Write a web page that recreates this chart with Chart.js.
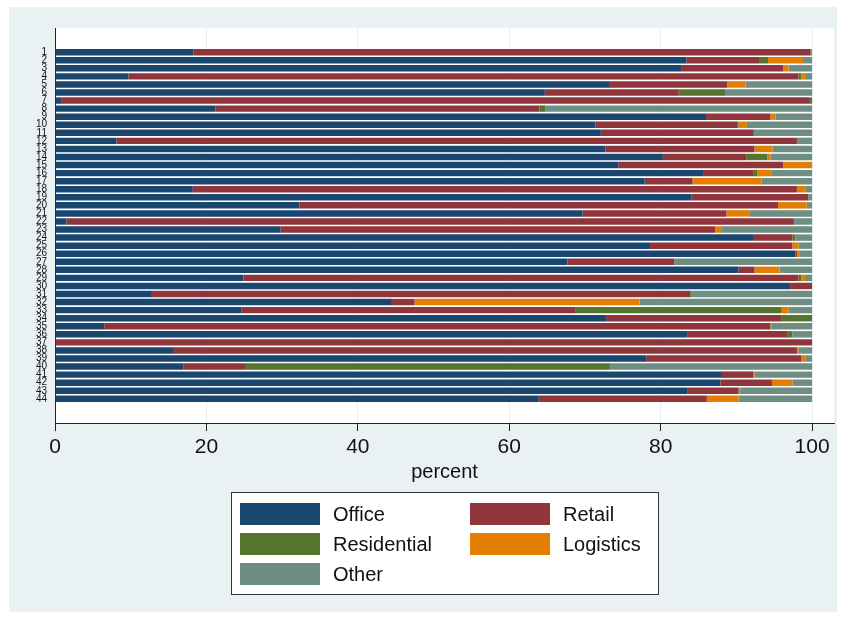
<!DOCTYPE html>
<html>
<head>
<meta charset="utf-8">
<script src="https://cdn.jsdelivr.net/npm/chart.js@4"></script>
<style>
  body { margin: 0; background: #fff; }
  canvas { display: block; }
</style>
</head>
<body>
<canvas id="share-chart" width="845" height="619"></canvas>
<script>
const categories = ["1","2","3","4","5","6","7","8","9","10","11","12","13","14","15","16","17","18","19","20","21","22",
  "23","24","25","26","27","28","29","30","31","32","33","34","35","36","37","38","39","40","41","42","43","44"];

const office = [18.3, 83.4, 82.7, 9.7, 73.3, 64.7, 0.9, 21.2, 86.0, 71.4, 72.1, 8.1, 72.7, 80.3, 74.4, 85.6, 77.9, 18.2, 84.1, 32.3, 69.7, 1.5,
  29.8, 92.2, 78.6, 97.8, 67.7, 90.3, 24.9, 97.1, 12.8, 44.5, 24.6, 72.8, 6.5, 83.5, 0, 15.7, 78.1, 17.0, 88.1, 87.9, 83.5, 63.9];
const retail = [81.5, 9.6, 13.5, 88.5, 15.5, 17.7, 98.7, 42.8, 8.5, 18.7, 20.2, 89.9, 19.7, 11.0, 21.8, 6.7, 6.3, 79.8, 15.4, 63.2, 19.0, 96.1,
  57.4, 5.2, 18.8, 0.2, 14.1, 2.1, 73.3, 2.9, 71.1, 3.0, 44.1, 23.2, 88.0, 13.3, 100, 82.3, 20.5, 8.1, 4.1, 6.8, 6.8, 22.2];
const residential = [0.1, 1.2, 0, 0.4, 0, 6.1, 0.4, 0.8, 0, 0.2, 0, 0, 0, 2.8, 0, 0.5, 0.1, 0, 0, 0, 0, 0,
  0, 0.4, 0, 0, 0, 0, 0.4, 0, 0.2, 0, 27.3, 4.0, 0, 0.6, 0, 0, 0, 48.2, 0, 0, 0, 0];
const logistics = [0, 4.6, 0.7, 0.6, 2.4, 0, 0, 0, 0.7, 1.1, 0, 0, 2.4, 0.4, 3.8, 1.8, 9.0, 1.1, 0, 3.8, 3.1, 0,
  0.9, 0, 0.8, 0.4, 0, 3.3, 0.6, 0, 0, 29.7, 0.9, 0, 0.2, 0, 0, 0.2, 0.5, 0, 0.2, 2.7, 0.2, 4.2];
const other = [0.1, 1.2, 3.1, 0.8, 8.8, 11.5, 0, 35.2, 4.8, 8.6, 7.7, 2.0, 5.2, 5.5, 0, 5.4, 6.7, 0.9, 0.5, 0.7, 8.2, 2.4,
  11.9, 2.2, 1.8, 1.6, 18.2, 4.3, 0.8, 0, 15.9, 22.8, 3.1, 0, 5.3, 2.6, 0, 1.8, 0.9, 26.7, 7.6, 2.6, 9.5, 9.7];

const xTicks = [0, 20, 40, 60, 80, 100];

const seriesNames = ["Office", "Retail", "Residential", "Logistics", "Other"];
const seriesValues = [office, retail, residential, logistics, other];
const seriesColors = ["#1a476f", "#90353b", "#55752f", "#e37e00", "#6e8e84"];

const font = "'Liberation Sans', Arial, sans-serif";

// stata-like frame: light bluish region with white plot area
const framePlugin = {
  id: "frame",
  beforeDraw(chart) {
    const ctx = chart.ctx;
    const a = chart.chartArea;
    ctx.save();
    ctx.fillStyle = "#eaf1f3";
    ctx.fillRect(9, 7, 828, 605);
    ctx.fillStyle = "#ffffff";
    ctx.fillRect(a.left, a.top, a.right - a.left, a.bottom - a.top);
    ctx.restore();
  }
};

// boxed two-column legend below the axis title
const legendPlugin = {
  id: "boxLegend",
  afterDraw(chart) {
    const ctx = chart.ctx;
    ctx.save();
    ctx.fillStyle = "#ffffff";
    ctx.fillRect(231, 492, 427, 102);
    ctx.strokeStyle = "#333";
    ctx.lineWidth = 1;
    ctx.strokeRect(231.5, 492.5, 427, 102);
    ctx.font = "20px " + font;
    ctx.textBaseline = "middle";
    chart.data.datasets.forEach((ds, i) => {
      const col = i % 2;
      const row = Math.floor(i / 2);
      const sx = 240 + col * 230;
      const sy = 503 + row * 30;
      ctx.fillStyle = ds.backgroundColor;
      ctx.fillRect(sx, sy, 80, 22);
      ctx.fillStyle = "#111";
      ctx.fillText(ds.label, sx + 93, sy + 12);
    });
    ctx.restore();
  }
};

const datasets = seriesNames.map((name, s) => ({
  label: name,
  data: seriesValues[s].map((v, i) => ({ y: i + 1, x: v })),
  backgroundColor: seriesColors[s],
  borderWidth: 0,
  categoryPercentage: 0.8,
  barPercentage: 1.0
}));

new Chart(document.getElementById("share-chart"), {
  type: "bar",
  data: { datasets },
  plugins: [framePlugin, legendPlugin],
  options: {
    indexAxis: "y",
    responsive: false,
    animation: false,
    layout: { padding: { left: 10, right: 11, top: 28, bottom: 135 } },
    plugins: { legend: { display: false }, tooltip: { enabled: false } },
    scales: {
      x: {
        type: "linear",
        stacked: true,
        min: 0,
        max: 102.9,
        afterBuildTicks(scale) { scale.ticks = xTicks.map(v => ({ value: v })); },
        afterFit(scale) { scale.height = 61; },
        grid: { color: "#e6eef1", lineWidth: 1, tickColor: "#222", tickLength: 8 },
        border: { display: true, color: "#222", width: 1 },
        ticks: { font: { family: font, size: 21 }, color: "#111", padding: 4 },
        title: { display: true, text: "percent", font: { family: font, size: 20 }, color: "#111", padding: { top: 0, bottom: 0 } }
      },
      y: {
        type: "linear",
        stacked: true,
        reverse: true,
        offset: false,
        min: -2,
        max: 47,
        afterBuildTicks(scale) { scale.ticks = categories.map((c, i) => ({ value: i + 1 })); },
        afterFit(scale) { scale.width = 45; },
        grid: { display: false, drawTicks: false },
        border: { display: true, color: "#222", width: 1 },
        ticks: {
          autoSkip: false,
          font: { family: font, size: 10 },
          color: "#111",
          padding: 8,
          callback: (v) => categories[v - 1]
        }
      }
    }
  }
});
</script>
</body>
</html>
